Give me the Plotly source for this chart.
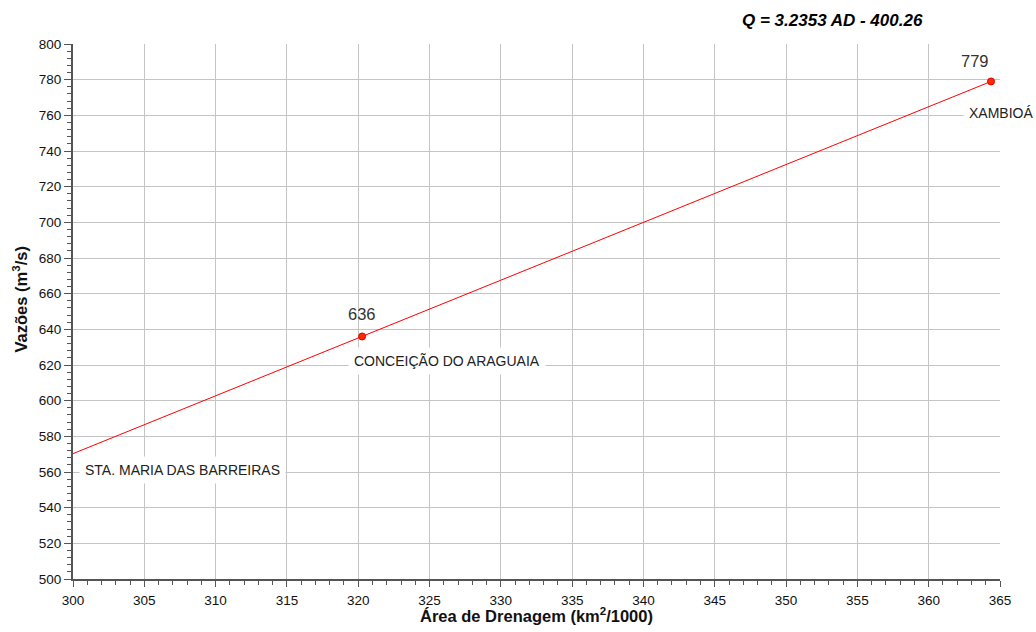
import plotly.graph_objects as go

# Regression line Q = 3.2353 AD - 400.26 sampled at the chart edge and at the stations
line_area = [300.0, 320.27, 364.37]
line_flow = [570.3, 636.0, 779.0]

# Gauging stations with known flows
station_area = [320.27, 364.37]
station_flow = [636, 779]
station_value_text = ["636", "779"]

FONT = "Liberation Sans, Arial, sans-serif"

fig = go.Figure()
fig.add_trace(go.Scatter(
    x=line_area, y=line_flow, mode="lines",
    line=dict(color="#ff0000", width=1), hoverinfo="skip", showlegend=False,
))
fig.add_trace(go.Scatter(
    x=station_area, y=station_flow, mode="markers",
    marker=dict(color="#ff2a00", size=7, line=dict(color="#e00000", width=1)),
    showlegend=False,
))

# Flow values written above each station marker
value_shift = [(0, 22), (-16, 20)]
for xa, yf, txt, (dx, dy) in zip(station_area, station_flow, station_value_text, value_shift):
    fig.add_annotation(
        x=xa, y=yf, text=txt, showarrow=False, xshift=dx, yshift=dy,
        font=dict(family=FONT, size=16.5, color="#333333"),
    )

station_labels = [
    dict(x=307.7, y=561.2, text="STA. MARIA DAS BARREIRAS", dx=0),
    dict(x=326.2, y=622.2, text="CONCEIÇÃO DO ARAGUAIA", dx=0),
    dict(x=364.9, y=761.3, text="XAMBIOÁ", dx=2),
]
for lab in station_labels:
    fig.add_annotation(
        x=lab["x"], y=lab["y"], xshift=lab["dx"], text=lab["text"], showarrow=False,
        font=dict(family=FONT, size=14, color="#222222"),
        bgcolor="white", borderpad=5,
    )

fig.add_annotation(
    xref="paper", yref="paper", x=0.819, y=1.0, yshift=24,
    xanchor="center", yanchor="middle",
    text="<b><i>Q = 3.2353 AD - 400.26</i></b>", showarrow=False,
    font=dict(family=FONT, size=17, color="black"),
)

# Axis titles
fig.add_annotation(
    xref="paper", yref="paper", x=0, xshift=-53, y=0.5, yshift=12,
    xanchor="center", yanchor="middle", textangle=-90,
    text="<b>Vazões (m<sup>3</sup>/s)</b>", showarrow=False,
    font=dict(family=FONT, size=16.5, color="#111111"),
)
fig.add_annotation(
    xref="paper", yref="paper", x=0.5, y=0, yshift=-36,
    xanchor="center", yanchor="middle",
    text="<b>Área de Drenagem (km<sup>2</sup>/1000)</b>", showarrow=False,
    font=dict(family=FONT, size=16.5, color="#111111"),
)

fig.update_layout(
    width=1036, height=632,
    margin=dict(l=73, r=36, t=44, b=53),
    paper_bgcolor="white", plot_bgcolor="white",
    font=dict(family=FONT, size=13.5, color="#111111"),
)
fig.update_xaxes(
    range=[300, 365], dtick=5, tick0=300, automargin=False,
    showgrid=True, gridcolor="#c4c4c4", gridwidth=1,
    showline=True, linecolor="#555555", linewidth=2,
    ticks="outside", ticklen=6, tickcolor="#555555", ticklabelstandoff=2,
    minor=dict(dtick=1, ticks="outside", ticklen=4, tickcolor="#555555", showgrid=False),
    zeroline=False,
)
fig.update_yaxes(
    range=[500, 800], dtick=20, tick0=500, automargin=False,
    showgrid=True, gridcolor="#c4c4c4", gridwidth=1,
    showline=True, linecolor="#555555", linewidth=2,
    ticks="outside", ticklen=7, tickcolor="#555555",
    minor=dict(dtick=4, ticks="outside", ticklen=4, tickcolor="#555555", showgrid=False),
    zeroline=False,
)

fig.write_html("out.html")
